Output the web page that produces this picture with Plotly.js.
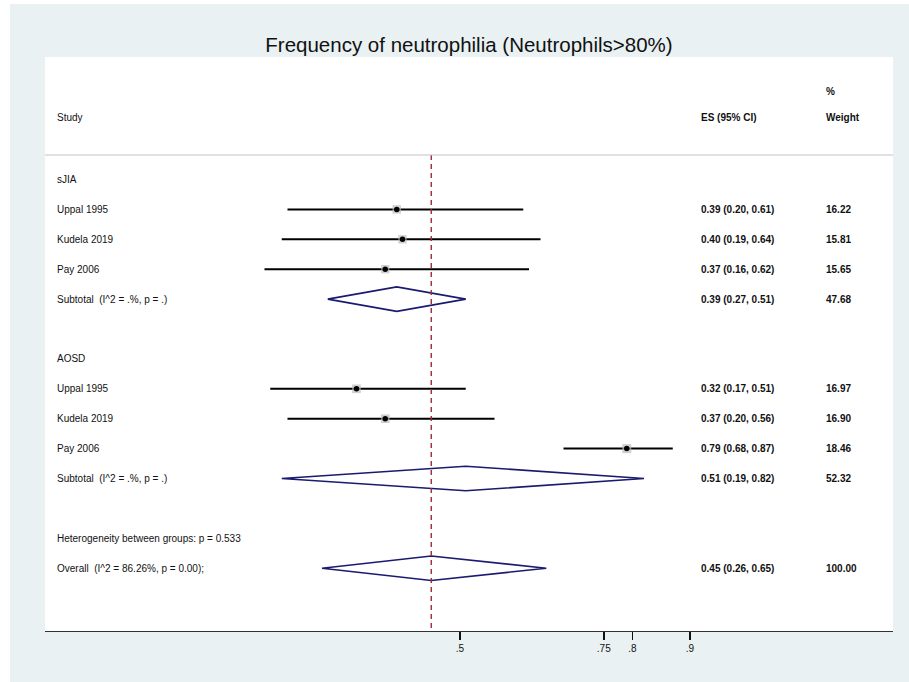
<!DOCTYPE html>
<html>
<head>
<meta charset="utf-8">
<script src="https://cdn.plot.ly/plotly-3.0.1.min.js"></script>
<style>html,body{margin:0;padding:0;background:#fff;}#chart{width:909px;height:682px;}</style>
</head>
<body>
<div id="chart"></div>
<script>
// ---- data ----
const chartTitle = 'Frequency of neutrophilia (Neutrophils>80%)';
const groups = ['sJIA', 'AOSD'];
const studies = ['Uppal 1995', 'Kudela 2019', 'Pay 2006', 'Uppal 1995', 'Kudela 2019', 'Pay 2006'];
const studyGroup = [0, 0, 0, 1, 1, 1];
const es = [0.39, 0.40, 0.37, 0.32, 0.37, 0.79];
const lo = [0.20, 0.19, 0.16, 0.17, 0.20, 0.68];
const hi = [0.61, 0.64, 0.62, 0.51, 0.56, 0.87];
const weight = ['16.22', '15.81', '15.65', '16.97', '16.90', '18.46'];
const subEs = [0.39, 0.51];
const subLo = [0.27, 0.19];
const subHi = [0.51, 0.82];
const subWeight = ['47.68', '52.32'];
const subLabel = ['Subtotal  (I^2 = .%, p = .)', 'Subtotal  (I^2 = .%, p = .)'];
const hetLabel = 'Heterogeneity between groups: p = 0.533';
const overallLabel = 'Overall  (I^2 = 86.26%, p = 0.00);';
const overallEs = 0.45, overallLo = 0.26, overallHi = 0.65;
const overallWeight = '100.00';
const tickVals = [0.5, 0.75, 0.8, 0.9];
const tickText = ['.5', '.75', '.8', '.9'];

// ---- layout helpers ----
const W = 909, H = 682, ML = 45, MR = 16, MT = 57, MB = 51;
const PW = W - ML - MR, PH = H - MT - MB;
const px2x = p => (p - ML) / PW;            // pixel -> paper x
const py2y = p => (H - MB - p) / PH;        // pixel -> paper y
const fmt = (a, b, c) => a.toFixed(2) + ' (' + b.toFixed(2) + ', ' + c.toFixed(2) + ')';

// row assignment
const groupRow = [0, 6];
const studyRow = [1, 2, 3, 7, 8, 9];
const subRow = [4, 10];
const hetRow = 12, overallRow = 13;
const headRow1 = -2.96, headRow2 = -2.06, lineRow = -0.82;
const yBottom = 15.10, yTop = -4.097;
const dh = 0.41;

const FONT = 'Liberation Sans, Arial, Helvetica, sans-serif';
const txtSize = 10;
const xLeft = px2x(55), xES = px2x(699), xW = px2x(824);

const traces = [];
// CI lines
const cx = [], cy = [];
for (let i = 0; i < es.length; i++) { cx.push(lo[i], hi[i], null); cy.push(studyRow[i], studyRow[i], null); }
traces.push({type: 'scatter', mode: 'lines', x: cx, y: cy, line: {color: '#000', width: 2}, hoverinfo: 'skip', showlegend: false});
// weight boxes
traces.push({type: 'scatter', mode: 'markers', x: es, y: studyRow,
  marker: {symbol: 'square', color: '#bcbcbc', size: weight.map(w => 2.1 * Math.sqrt(parseFloat(w))), line: {width: 0}},
  hoverinfo: 'skip', showlegend: false});
// point estimates
traces.push({type: 'scatter', mode: 'markers', x: es, y: studyRow,
  marker: {symbol: 'circle', color: '#000', size: 5.5, line: {width: 0}}, hoverinfo: 'skip', showlegend: false});
// diamonds
const dx = [], dy = [];
const addDiamond = (c, l, h, r) => { dx.push(l, c, h, c, l, null); dy.push(r, r - dh, r, r + dh, r, null); };
for (let g = 0; g < groups.length; g++) addDiamond(subEs[g], subLo[g], subHi[g], subRow[g]);
addDiamond(overallEs, overallLo, overallHi, overallRow);
traces.push({type: 'scatter', mode: 'lines', x: dx, y: dy, line: {color: '#1a1a70', width: 1.6}, hoverinfo: 'skip', showlegend: false});
// overall dashed reference line
traces.push({type: 'scatter', mode: 'lines', x: [overallEs, overallEs], y: [lineRow, yBottom],
  line: {color: '#9b2a3a', width: 1.4, dash: '5px,4px'}, hoverinfo: 'skip', showlegend: false});

// annotations
const ann = [];
const addText = (x, y, text, bold) => ann.push({xref: 'paper', yref: 'y', x: x, y: y,
  text: bold ? '<b>' + text + '</b>' : text, showarrow: false,
  xanchor: 'left', yanchor: 'middle', font: {family: FONT, size: txtSize, color: '#111'}});
addText(xW, headRow1, '%', true);
addText(xLeft, headRow2, 'Study');
addText(xES, headRow2, 'ES (95% CI)', true);
addText(xW, headRow2, 'Weight', true);
for (let g = 0; g < groups.length; g++) {
  addText(xLeft, groupRow[g], groups[g]);
  addText(xLeft, subRow[g], subLabel[g]);
  addText(xES, subRow[g], fmt(subEs[g], subLo[g], subHi[g]), true);
  addText(xW, subRow[g], subWeight[g], true);
}
for (let i = 0; i < studies.length; i++) {
  addText(xLeft, studyRow[i], studies[i]);
  addText(xES, studyRow[i], fmt(es[i], lo[i], hi[i]), true);
  addText(xW, studyRow[i], weight[i], true);
}
addText(xLeft, hetRow, hetLabel);
addText(xLeft, overallRow, overallLabel);
addText(xES, overallRow, fmt(overallEs, overallLo, overallHi), true);
addText(xW, overallRow, overallWeight, true);

const shapes = [
  {type: 'line', xref: 'paper', yref: 'y', x0: 0, x1: 1, y0: lineRow, y1: lineRow, line: {color: '#c4c4c4', width: 1.2}},
  {type: 'rect', xref: 'paper', yref: 'paper', x0: px2x(0), x1: px2x(W), y0: py2y(4), y1: py2y(0), fillcolor: '#ffffff', line: {width: 0}},
  {type: 'rect', xref: 'paper', yref: 'paper', x0: px2x(0), x1: px2x(10), y0: py2y(H), y1: py2y(0), fillcolor: '#ffffff', line: {width: 0}}
];

const layout = {
  width: W, height: H,
  margin: {l: ML, r: MR, t: MT, b: MB, pad: 0},
  paper_bgcolor: '#e9f1f3', plot_bgcolor: '#ffffff',
  title: {text: chartTitle, x: 0.5, xref: 'paper', xanchor: 'center', y: 1 - 45 / H, yref: 'container', yanchor: 'middle',
    font: {family: FONT, size: 20.5, color: '#111'}},
  xaxis: {range: [-0.2217, 1.2530], tickvals: tickVals, ticktext: tickText, showgrid: false, zeroline: false,
    showline: true, linecolor: '#333', linewidth: 1.2, ticks: 'outside', ticklen: 8, tickwidth: 1.5, tickcolor: '#111',
    tickfont: {family: FONT, size: 10, color: '#111'}, fixedrange: true},
  yaxis: {range: [yBottom, yTop], visible: false, fixedrange: true},
  showlegend: false, annotations: ann, shapes: shapes, hovermode: false
};
Plotly.newPlot('chart', traces, layout, {displayModeBar: false, staticPlot: true});
</script>
</body>
</html>
